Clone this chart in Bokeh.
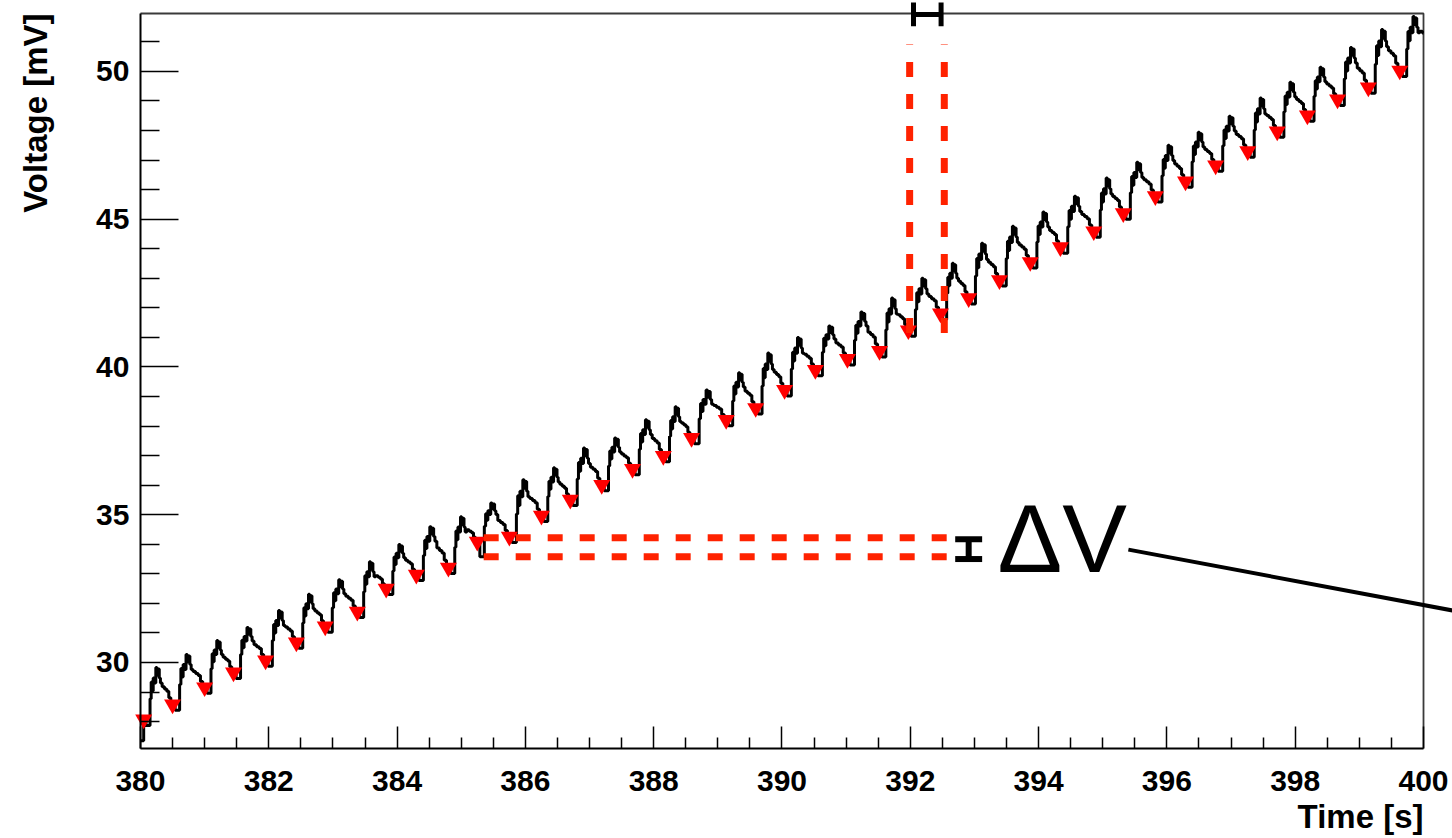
import math
from bokeh.plotting import figure
from bokeh.models import Range1d, FixedTicker, Label
from bokeh.embed import file_html
from bokeh.resources import INLINE

# ---------------- data ----------------
# local minima (red markers)
min_t = [380.05, 380.50, 381.00, 381.45, 381.95, 382.43, 382.88, 383.38, 383.83, 384.30,
         384.80, 385.25, 385.75, 386.25, 386.70, 387.19, 387.67, 388.15, 388.59, 389.13,
         389.59, 390.04, 390.52, 391.02, 391.52, 391.97, 392.47, 392.91, 393.39, 393.87,
         394.34, 394.86, 395.32, 395.82, 396.29, 396.76, 397.26, 397.72, 398.19, 398.66,
         399.14, 399.63]
min_v = [28.07, 28.58, 29.16, 29.66, 30.07, 30.68, 31.22, 31.72, 32.50, 32.97,
         33.21, 34.09, 34.26, 34.97, 35.51, 36.01, 36.55, 36.99, 37.60, 38.21,
         38.61, 39.22, 39.90, 40.27, 40.54, 41.24, 41.81, 42.33, 42.94, 43.55,
         44.05, 44.59, 45.20, 45.78, 46.28, 46.82, 47.30, 47.97, 48.51, 49.05,
         49.46, 50.03]
# highest spike of each cycle
peak_v = [29.83, 30.27, 30.74, 31.18, 31.76, 32.31, 32.80, 33.41, 33.99, 34.59,
          34.93, 35.40, 36.18, 36.59, 37.26, 37.60, 38.21, 38.65, 39.22, 39.80,
          40.47, 41.00, 41.39, 41.86, 42.33, 43.00, 43.51, 44.19, 44.76, 45.24,
          45.78, 46.39, 46.93, 47.50, 47.94, 48.48, 49.10, 49.63, 50.14, 50.81,
          51.42, 51.86]
trough_override = {11: 33.58}
start_t, start_v = 380.0, 27.35
end_t, end_next_min = 400.0, 50.90

# shape of one cycle, read from zoomed cycles (fraction of the cycle, relative level)
trough_f, trough_depth = 0.08, 0.20
rise_f = [0.22, 0.26, 0.29, 0.33, 0.37, 0.42, 0.46, 0.50, 0.54, 0.58]
rise_a = [0.40, 0.72, 0.55, 0.80, 0.70, 1.00, 0.85, 0.97, 0.80, 0.70]
fall_f = [0.64, 0.72, 0.80, 0.87, 0.94]
fall_b = [0.48, 0.42, 0.36, 0.18, 0.05]

# annotations
dv_levels = [34.22, 33.58]
dv_x = [385.35, 392.60]
dt_times = [391.99, 392.53]
dt_y = [41.15, 50.91]
hbar_x = [392.05, 392.48]
hbar_y, hbar_half = 51.93, 0.40
ibar_x, ibar_half = 392.91, 0.21
ibar_y = [34.17, 33.50]
lead_x = [395.40, 400.60]
lead_y = [33.82, 31.70]

x_ticks = [380, 382, 384, 386, 388, 390, 392, 394, 396, 398, 400]
x_minor = [380 + 0.5 * k for k in range(1, 40) if k % 4 != 0]
y_ticks = [30, 35, 40, 45, 50]
y_minor = [v for v in range(28, 52) if v % 5 != 0]

# plot box (data) and visible window (the frame covers the whole canvas)
box_x = (380.0, 400.0)
box_y = (27.09, 51.96)
view_x = (377.818, 400.452)
view_y = (24.044, 52.40)

# ---------------- build trace ----------------
tt = [start_t]
vv = [start_v]
n = len(min_t)
for i in range(n):
    t0, m0, pk = min_t[i], min_v[i], peak_v[i]
    if i + 1 < n:
        t1, m1 = min_t[i + 1], min_v[i + 1]
    else:
        t1, m1 = t0 + (t0 - min_t[i - 1]), end_next_min
    P = t1 - t0
    tr = trough_override.get(i, m0 - trough_depth)
    pts = [(t0, m0), (t0 + trough_f * P, tr)]
    pts += [(t0 + f * P, m0 + a * (pk - m0)) for f, a in zip(rise_f, rise_a)]
    pts += [(t0 + f * P, m1 + b * (pk - m1)) for f, b in zip(fall_f, fall_b)]
    for t, v in pts:
        if t < end_t:
            tt.append(t)
            vv.append(v)
tt.append(end_t)
vv.append(vv[-1])

# ---------------- figure ----------------
FONT = "Liberation Sans"
p = figure(width=1452, height=838, output_backend="svg", toolbar_location=None,
           x_range=Range1d(*view_x), y_range=Range1d(*view_y),
           min_border_left=0, min_border_right=0, min_border_top=0, min_border_bottom=0)
p.outline_line_color = None
p.xgrid.visible = False
p.ygrid.visible = False
p.background_fill_color = "white"
p.border_fill_color = "white"

for ax, tk, mn, bnd, loc, tin in ((p.xaxis[0], x_ticks, x_minor, box_x, box_y[0], 22),
                                  (p.yaxis[0], y_ticks, y_minor, box_y, box_x[0], 38)):
    ax.ticker = FixedTicker(ticks=tk, minor_ticks=mn)
    ax.bounds = bnd
    ax.fixed_location = loc
    ax.axis_line_color = "black"
    ax.axis_line_width = 2
    ax.major_tick_in = tin
    ax.major_tick_out = 0
    ax.minor_tick_in = tin // 2
    ax.minor_tick_out = 0
    ax.major_tick_line_width = 1.5
    ax.minor_tick_line_width = 1.5
    ax.major_tick_line_color = "black"
    ax.minor_tick_line_color = "black"
    ax.major_label_text_font = FONT
    ax.major_label_text_font_style = "bold"
    ax.major_label_text_font_size = "30px"
    ax.major_label_text_color = "black"
p.xaxis[0].major_label_standoff = 23
p.yaxis[0].major_label_standoff = 11

# top and right frame border
p.line([box_x[0], box_x[1], box_x[1]], [box_y[1], box_y[1], box_y[0]],
       line_color="#3a3a3a", line_width=1.8)

# trace
p.step(tt, vv, mode="after", line_color="black", line_width=3)
p.scatter(min_t, min_v, marker="inverted_triangle", size=17, fill_color="#ff0000",
          line_color="#ff0000", line_width=0)

# dashed guide lines
RED = "#ff2200"
for lv in dv_levels:
    p.line(dv_x, [lv, lv], line_color=RED, line_width=7, line_dash="15 17")
for tv in dt_times:
    p.line([tv, tv], dt_y, line_color=RED, line_width=7, line_dash="15 17")

# H bar at top
p.line(hbar_x, [hbar_y, hbar_y], line_color="black", line_width=5)
for hx in hbar_x:
    p.line([hx, hx], [hbar_y - hbar_half, hbar_y + hbar_half], line_color="black", line_width=5)
# I bar next to Delta V
p.line([ibar_x, ibar_x], ibar_y, line_color="black", line_width=6)
for iy in ibar_y:
    p.line([ibar_x - ibar_half, ibar_x + ibar_half], [iy, iy], line_color="black", line_width=6)
# leader line
p.line(lead_x, lead_y, line_color="black", line_width=4)

p.add_layout(Label(x=393.36, y=34.19, text="\u0394V", text_font=FONT, text_font_size="97px",
                   text_color="black", text_align="left", text_baseline="alphabetic"))
p.add_layout(Label(x=400.0, y=24.79, text="Time [s]", text_font=FONT, text_font_size="33px",
                   text_font_style="bold", text_color="black", text_align="right",
                   text_baseline="alphabetic"))
p.add_layout(Label(x=378.363, y=box_y[1], text="Voltage [mV]", text_font=FONT,
                   text_font_size="33px", text_font_style="bold", text_color="black",
                   text_align="right", text_baseline="alphabetic", angle=math.pi / 2))

open("out.html", "w").write(file_html(p, INLINE))
